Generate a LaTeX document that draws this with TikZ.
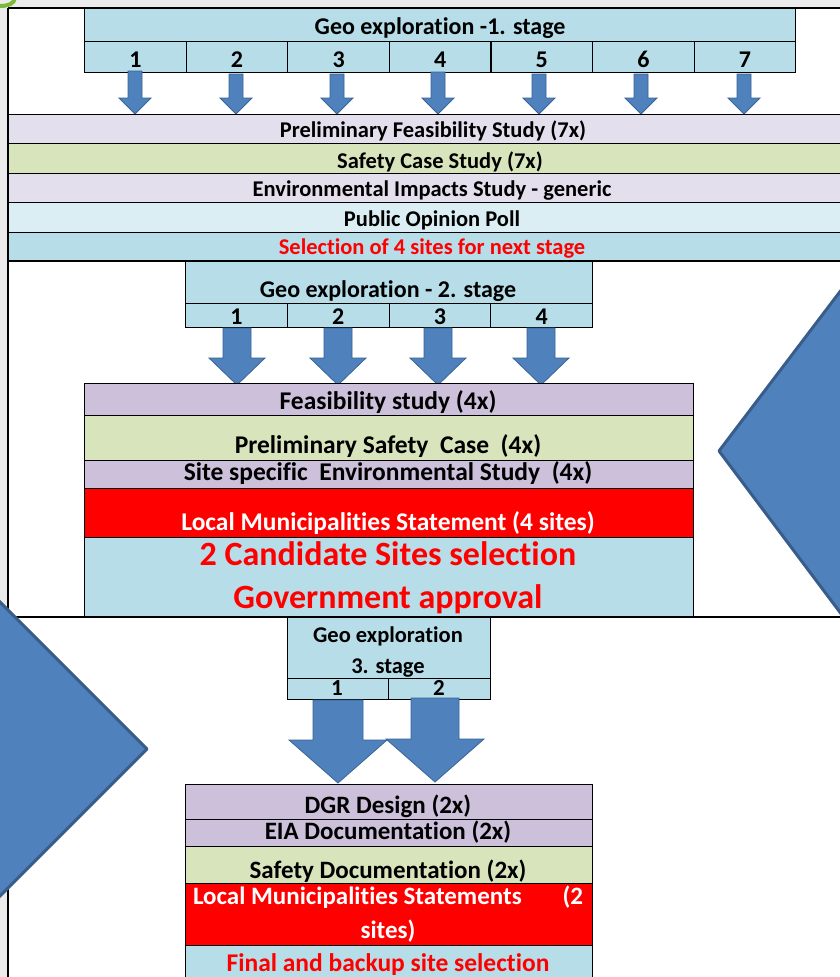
\documentclass[tikz,border=0pt]{standalone}
\usepackage{fontspec}
\setmainfont{Carlito}[Ligatures={NoCommon}]
\definecolor{tblue}{HTML}{B7DDE8}
\definecolor{lav}{HTML}{E4DFEC}
\definecolor{purp}{HTML}{CCC0DA}
\definecolor{grn}{HTML}{D8E4BC}
\definecolor{pale}{HTML}{DAEEF3}
\definecolor{redc}{HTML}{FF0000}
\definecolor{arrowblue}{HTML}{4F81BD}
\definecolor{arrowedge}{HTML}{3A6496}
\definecolor{bigedge}{HTML}{385D8A}
\definecolor{stripgray}{HTML}{EBEBEB}
\definecolor{cornergreen}{HTML}{7DB83A}
\newcommand{\cell}[6]{\node[cellbox, fill=#6, minimum width={#4pt-#2pt}, minimum height={#5pt-#3pt}] (#1) at ({#2},{#3}) {};}
\newcommand{\blockarr}[7]{\draw[#1] ({#2-#4},#3) -- ({#2+#4},#3) -- ({#2+#4},#6) -- ({#2+#5},#6) -- (#2,#7) -- ({#2-#5},#6) -- ({#2-#4},#6) -- cycle;}
\begin{document}
\begin{tikzpicture}[x=1pt,y=-1pt,
  cellbox/.style={draw=black, line width=1.2pt, inner sep=0pt, anchor=north west},
  frame/.style={draw=black, line width=1.2pt},
  tx/.style n args={2}{font=\fontsize{#1}{#1}\selectfont\bfseries, inner sep=0pt, text height=#2, text depth=0pt, anchor=center},
  arrowS/.style={fill=arrowblue, draw=arrowedge, line width=0.8pt},
  bigarrow/.style={fill=arrowblue, draw=bigedge, line width=3pt, line join=round}]
\useasboundingbox (0,0) rectangle (840,977);
\clip (0,0) rectangle (840,977);
\fill[white] (0,0) rectangle (840,977);
% outer strips
\fill[stripgray] (0,0) rectangle (840,7);
\fill[stripgray] (0,0) rectangle (7,977);
\draw[cornergreen, line width=4pt] (15,-2) .. controls (14,4) and (8,6) .. (0,6);
\draw[frame] (8,8) -- (840,8);
\draw[frame] (8,8) -- (8,977);
% stage 1
\cell{g1}{84}{8}{795}{41}{tblue}
\node[tx={24}{15.5pt}] (g1t) at ([yshift=-2pt]g1.center) {Geo exploration -1. stage};
\foreach \i in {1,...,7}{
  \pgfmathsetmacro\xa{84+101.6*(\i-1)}
  \pgfmathsetmacro\xb{84+101.6*\i}
  \cell{g1n\i}{\xa}{41}{\xb}{72}{tblue}
  \node[tx={24}{15.5pt}] (g1l\i) at ([yshift=-3pt]g1n\i.center) {\i};
}
% small arrows
\foreach \c/\t in {135/71,236/74,337/74,438/72,539/74,641/74,744/74}{
  \blockarr{arrowS}{\c}{\t}{7}{16}{98}{114}
}
% band 1
\cell{b1}{8}{114}{850}{143}{lav}
\cell{b2}{8}{143}{850}{173}{grn}
\cell{b3}{8}{173}{850}{202}{lav}
\cell{b4}{8}{202}{850}{232}{pale}
\cell{b5}{8}{232}{850}{261}{tblue}
\node[tx={22.5}{14.6pt}] (b1t) at (433,130) {Preliminary Feasibility Study (7x)};
\node[tx={22.5}{14.6pt}] (b2t) at (440,161) {Safety Case Study (7x)};
\node[tx={22.5}{14.6pt}] (b3t) at (432,189) {Environmental Impacts Study - generic};
\node[tx={22.5}{14.6pt}] (b4t) at (432,219) {Public Opinion Poll};
\node[tx={22.5}{14.6pt}, text=redc] (b5t) at (432,247) {Selection of 4 sites for next stage};
% stage 2
\cell{g2}{185}{261}{592}{303}{tblue}
\node[tx={24}{15.5pt}] (g2t) at (388,290) {Geo exploration - 2. stage};
\foreach \i in {1,...,4}{
  \pgfmathsetmacro\xa{185+101.75*(\i-1)}
  \pgfmathsetmacro\xb{185+101.75*\i}
  \cell{g2n\i}{\xa}{303}{\xb}{327}{tblue}
  \node[tx={24}{15.5pt}] (g2l\i) at ([yshift=-1pt]g2n\i.center) {\i};
}
\foreach \c in {237,338,438,541}{
  \blockarr{arrowS}{\c}{328}{14}{28}{358}{385}
}
% middle block
\cell{m1}{84}{383}{693}{415}{purp}
\cell{m2}{84}{415}{693}{460}{grn}
\cell{m3}{84}{460}{693}{488}{purp}
\cell{m4}{84}{488}{693}{537}{redc}
\cell{m5}{84}{537}{693}{617}{tblue}
\node[tx={25.5}{16.5pt}] (m1t) at (388,401) {Feasibility study (4x)};
\node[tx={25.5}{16.5pt}] (m2t) at (388,445) {Preliminary Safety\ \ Case\ \ (4x)};
\node[tx={25.5}{16.5pt}] (m3t) at (388,472) {Site specific\ \ Environmental Study\ \ (4x)};
\node[tx={25.5}{16.5pt}, text=white] (m4t) at (388,522) {Local Municipalities Statement (4 sites)};
\node[tx={34}{22pt}, text=redc] (m5a) at (388,554) {2 Candidate Sites selection};
\node[tx={34}{22pt}, text=redc] (m5b) at (388,597) {Government approval};
\draw[frame] (8,261) -- (840,261);
\draw[frame] (8,617) -- (840,617);
% stage 3
\cell{g3}{287}{617}{490}{678}{tblue}
\node[tx={22.5}{14.6pt}] (g3a) at (388,635) {Geo exploration};
\node[tx={22.5}{14.6pt}] (g3b) at (388,666) {3. stage};
\cell{g3n1}{287}{678}{388}{699}{tblue}
\cell{g3n2}{388}{678}{490}{699}{tblue}
\node[tx={23}{15pt}] (g3l1) at (337,688) {1};
\node[tx={23}{15pt}] (g3l2) at (439,688) {2};
\blockarr{arrowS}{338}{700}{25}{49}{740}{783}
\blockarr{arrowS}{435}{698}{24}{49}{739}{782}
% bottom block
\cell{d1}{185}{784}{592}{819}{purp}
\cell{d2}{185}{819}{592}{846}{purp}
\cell{d3}{185}{846}{592}{883}{grn}
\cell{d4}{185}{883}{592}{945}{redc}
\cell{d5}{185}{945}{592}{990}{tblue}
\node[tx={25}{16.2pt}] (d1t) at (388,805) {DGR Design (2x)};
\node[tx={25}{16.2pt}] (d2t) at (388,831) {EIA Documentation (2x)};
\node[tx={25}{16.2pt}] (d3t) at (388,870) {Safety Documentation (2x)};
\node[tx={25}{16.2pt}, text=white] (d4a) at (388,896) {\makebox[390pt][s]{Local Municipalities Statements\hfill(2}};
\node[tx={25}{16.2pt}, text=white] (d4b) at (388,930) {sites)};
\node[tx={25.5}{16.5pt}, text=redc] (d5t) at (388,963) {Final and backup site selection};
% big side arrows
\draw[bigarrow] (719,451) -- (842,289) -- (860,289) -- (860,615) -- (842,615) -- cycle;
\draw[bigarrow] (147,749) -- (-5,597) -- (-20,597) -- (-20,901) -- (-5,901) -- cycle;
\end{tikzpicture}
\end{document}
